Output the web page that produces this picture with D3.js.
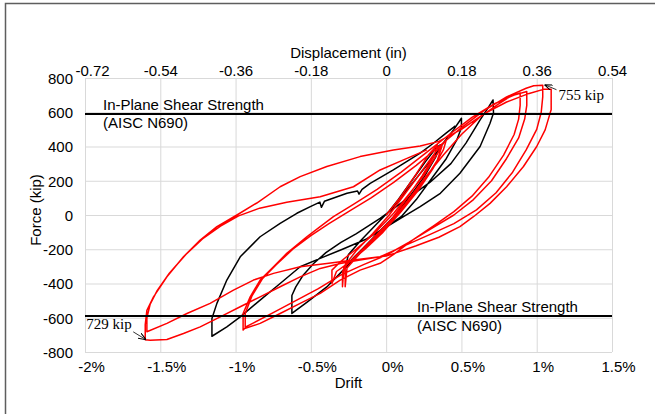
<!DOCTYPE html>
<html>
<head>
<meta charset="utf-8">
<script src="https://cdn.jsdelivr.net/npm/d3@7"></script>
<style>
  body { margin: 0; background: #fff; }
  svg text { font-family: "Liberation Sans", Arial, sans-serif; font-size: 15px; fill: #000; }
  svg text.note { font-family: "Liberation Serif", "Times New Roman", serif; }
</style>
</head>
<body>
<svg id="chart" width="655" height="414"></svg>
<script>
const driftTicks = [-2, -1.5, -1, -0.5, 0, 0.5, 1, 1.5];
const dispTicks = [-0.72, -0.54, -0.36, -0.18, 0, 0.18, 0.36, 0.54];
const forceTicks = [-800, -600, -400, -200, 0, 200, 400, 600, 800];
const shearStrength = 590;
const maxPeak = [1.045, 755];
const minPeak = [-1.60, -729];

// [drift %, force kip]
const blackPts = [
  [0.00, 0], [0.08, 90], [0.17, 200], [0.26, 310], [0.33, 390], [0.36, 410],
  [0.33, 340], [0.25, 220], [0.15, 100], [0.05, -10], [-0.06, -110], [-0.16, -200], [-0.24, -270], [-0.27, -300],
  [-0.25, -230], [-0.17, -150], [-0.06, -50], [0.05, 50], [0.16, 170], [0.28, 300], [0.38, 420], [0.45, 500], [0.50, 565],
  [0.50, 510], [0.47, 440], [0.40, 330], [0.30, 210], [0.20, 90], [0.10, -10], [0.0, -70], [-0.128, -180], [-0.261, -300], [-0.394, -420], [-0.527, -510], [-0.626, -575],
  [-0.626, -470], [-0.60, -420], [-0.55, -350], [-0.48, -282], [-0.40, -220], [-0.30, -160], [-0.20, -110], [-0.04, -20], [0.115, 80], [0.29, 190], [0.43, 300], [0.53, 420], [0.62, 550], [0.68, 630], [0.71, 672],
  [0.713, 595], [0.69, 536], [0.624, 400], [0.49, 244], [0.36, 127], [0.226, 49], [0.115, -10], [0.0, -70], [-0.13, -140], [-0.29, -200], [-0.438, -253], [-0.571, -302], [-0.704, -400], [-0.837, -497], [-0.969, -595], [-1.058, -653], [-1.157, -708],
  [-1.157, -604], [-1.124, -516], [-1.058, -380], [-0.969, -244], [-0.837, -127], [-0.704, -49], [-0.593, 10], [-0.50, 50], [-0.44, 75], [-0.43, 45], [-0.41, 80],
  [-0.33, 105], [-0.26, 127], [-0.19, 140], [-0.18, 122], [-0.16, 150], [-0.106, 185], [0.048, 263], [0.226, 361], [0.314, 419], [0.40, 480], [0.46, 520]
];

const redPts = [
  [0.00, 0], [0.10, 110], [0.20, 240], [0.28, 350], [0.34, 409],
  [0.32, 350], [0.24, 230], [0.14, 100], [0.04, -20], [-0.08, -130], [-0.18, -220], [-0.26, -290], [-0.29, -330], [-0.29, -419],
  [-0.28, -300], [-0.20, -210], [-0.09, -110], [0.02, 0], [0.13, 130], [0.24, 260], [0.33, 370], [0.40, 439],
  [0.38, 380], [0.31, 270], [0.21, 140], [0.10, 20], [-0.02, -100], [-0.14, -200], [-0.25, -280], [-0.33, -330], [-0.36, -400],
  [-0.36, -322], [-0.30, -270], [-0.20, -200], [-0.08, -110], [0.05, 10], [0.15, 120], [0.25, 230], [0.32, 330], [0.37, 400],
  [0.34, 320], [0.26, 210], [0.16, 90], [0.05, -30], [-0.08, -140], [-0.18, -220], [-0.26, -290], [-0.272, -300], [-0.272, -419],
  [-0.26, -310], [-0.18, -230], [-0.08, -140], [0.03, -40], [0.14, 80], [0.26, 220], [0.38, 350], [0.50, 470], [0.62, 570], [0.74, 645], [0.83, 695], [0.89, 712],
  [0.89, 640], [0.88, 560], [0.85, 470], [0.78, 350], [0.68, 220], [0.57, 110], [0.45, 20], [0.32, -60], [0.17, -150], [0.05, -230], [-0.04, -282], [-0.173, -322],
  [-0.305, -380], [-0.438, -458], [-0.571, -516], [-0.704, -575], [-0.837, -633], [-0.94, -663], [-0.95, -672],
  [-0.95, -575], [-0.903, -478], [-0.837, -380], [-0.748, -302], [-0.66, -224], [-0.527, -127], [-0.438, -68], [-0.35, -10], [-0.22, 60], [-0.06, 150],
  [0.10, 250], [0.26, 360], [0.42, 470], [0.57, 570], [0.72, 650], [0.85, 700], [0.934, 721],
  [0.934, 640], [0.92, 560], [0.88, 450], [0.80, 330], [0.70, 200], [0.58, 90], [0.45, 0], [0.30, -80], [0.15, -160], [0.0, -235], [-0.15, -290],
  [-0.30, -350], [-0.45, -430], [-0.60, -500], [-0.75, -570], [-0.88, -630], [-0.936, -655],
  [-0.936, -575], [-0.89, -470], [-0.82, -370], [-0.73, -290], [-0.62, -200], [-0.50, -120], [-0.38, -50], [-0.25, 20], [-0.10, 100], [0.05, 190],
  [0.20, 290], [0.35, 400], [0.50, 510], [0.65, 610], [0.80, 690], [0.93, 740], [0.98, 755], [1.04, 758],
  [1.04, 690], [1.03, 600], [1.00, 500], [0.93, 380], [0.84, 250], [0.73, 130], [0.60, 30], [0.45, -50], [0.30, -110], [0.12, -180], [-0.04, -244],
  [-0.173, -263], [-0.305, -283], [-0.438, -312], [-0.571, -361], [-0.704, -419], [-0.837, -478], [-0.969, -536], [-1.102, -595], [-1.235, -653],
  [-1.346, -692], [-1.456, -727], [-1.567, -731], [-1.60, -729],
  [-1.60, -640], [-1.589, -556], [-1.545, -478], [-1.456, -361], [-1.346, -244], [-1.235, -146], [-1.124, -68], [-0.991, 0], [-0.859, 70], [-0.704, 165],
  [-0.571, 224], [-0.394, 283], [-0.173, 341], [0.048, 380], [0.226, 403], [0.35, 430], [0.50, 500], [0.65, 590], [0.80, 660], [0.95, 710], [1.05, 735], [1.096, 735],
  [1.096, 614], [1.089, 595], [1.056, 497], [1.00, 400], [0.912, 283], [0.80, 165], [0.69, 68], [0.58, -10], [0.49, -68], [0.35, -130], [0.20, -180], [0.00, -240],
  [-0.217, -263], [-0.394, -283], [-0.571, -302], [-0.748, -341], [-0.881, -380], [-1.014, -439], [-1.169, -516], [-1.323, -575], [-1.456, -633], [-1.589, -682],
  [-1.589, -600], [-1.567, -520], [-1.52, -440], [-1.44, -340], [-1.33, -230], [-1.22, -140], [-1.10, -65], [-0.98, -5], [-0.84, 40], [-0.66, 75],
  [-0.438, 107], [-0.217, 165], [-0.04, 263], [0.115, 322], [0.27, 380]
];

const svg = d3.select("#chart");
const margin = { left: 85, right: 43, top: 78, bottom: 62 };
const width = 655 - margin.left - margin.right;
const height = 414 - margin.top - margin.bottom;

// outer frame (top and left edges only)
svg.append("path")
  .attr("d", "M5.5,414 V3.5 H655")
  .attr("fill", "none")
  .attr("stroke", "#5e5e5e")
  .attr("stroke-width", 1.5);

const g = svg.append("g").attr("transform", `translate(${margin.left},${margin.top})`);

const x = d3.scaleLinear().domain([-2, 1.5]).range([0, width]);
const xTop = d3.scaleLinear().domain([-0.72, 0.54]).range([0, width]);
const y = d3.scaleLinear().domain([-800, 800]).range([height, 0]);

// grid
const gridX = g.append("g")
  .attr("transform", `translate(0,${height})`)
  .call(d3.axisBottom(x).tickValues(driftTicks).tickSize(-height).tickFormat(""));
const gridY = g.append("g")
  .call(d3.axisLeft(y).tickValues(forceTicks).tickSize(-width).tickFormat(""));
[gridX, gridY].forEach((grid) => {
  grid.select(".domain").remove();
  grid.selectAll("line").attr("stroke", "#d9d9d9").attr("stroke-width", 1);
});

// axis labels
const bottomAxis = g.append("g")
  .attr("transform", `translate(0,${height})`)
  .call(d3.axisBottom(x).tickValues(driftTicks).tickSize(0).tickFormat((d) => `${d}%`));
bottomAxis.selectAll("text").attr("y", 20).attr("dy", null).attr("dx", 6);

const topAxis = g.append("g")
  .call(d3.axisTop(xTop).tickValues(dispTicks).tickSize(0).tickFormat((d) => `${d}`));
topAxis.selectAll("text").attr("y", -2).attr("dy", null)
  .attr("dx", (d, i) => (i === 0 ? 7 : 0));

const leftAxis = g.append("g")
  .call(d3.axisLeft(y).tickValues(forceTicks).tickSize(0).tickFormat((d) => `${d}`));
leftAxis.selectAll("text").attr("x", -12).attr("dy", "0.35em");

[bottomAxis, topAxis, leftAxis].forEach((ax) => {
  ax.select(".domain").remove();
  ax.selectAll("text").attr("font-size", null).attr("font-family", null).attr("fill", "#000");
});

// titles
g.append("text").attr("x", width / 2).attr("y", -20).attr("text-anchor", "middle").text("Displacement (in)");
g.append("text").attr("x", width / 2).attr("y", height + 36).attr("text-anchor", "middle").text("Drift");
g.append("text")
  .attr("transform", `translate(-44,${height / 2 - 5}) rotate(-90)`)
  .attr("text-anchor", "middle")
  .text("Force (kip)");

// hysteresis curves
const line = d3.line().x((d) => x(d[0])).y((d) => y(d[1]));
g.append("path").datum(blackPts).attr("d", line)
  .attr("fill", "none").attr("stroke", "#000").attr("stroke-width", 1.5).attr("stroke-linejoin", "round");
g.append("path").datum(redPts).attr("d", line)
  .attr("fill", "none").attr("stroke", "#ff0000").attr("stroke-width", 1.5).attr("stroke-linejoin", "round");

// shear strength lines
[shearStrength, -shearStrength].forEach((v) => {
  g.append("line")
    .attr("x1", 0).attr("x2", width)
    .attr("y1", y(v)).attr("y2", y(v))
    .attr("stroke", "#000").attr("stroke-width", 2);
});
g.append("text").attr("x", 18).attr("y", y(shearStrength) - 4).text("In-Plane Shear Strength");
g.append("text").attr("x", 18).attr("y", y(shearStrength) + 14.5).text("(AISC N690)");
g.append("text").attr("x", 332).attr("y", y(-shearStrength) - 4).text("In-Plane Shear Strength");
g.append("text").attr("x", 332).attr("y", y(-shearStrength) + 14.5).text("(AISC N690)");

// peak annotations
svg.append("defs").append("marker")
  .attr("id", "arrow")
  .attr("viewBox", "0 0 8 6")
  .attr("refX", 8).attr("refY", 3)
  .attr("markerWidth", 8).attr("markerHeight", 6)
  .attr("markerUnits", "userSpaceOnUse")
  .attr("orient", "auto")
  .append("path")
  .attr("d", "M0,0 L8,3 L0,6")
  .attr("fill", "none").attr("stroke", "#000").attr("stroke-width", 1);

const px = x(maxPeak[0]), py = y(maxPeak[1]);
g.append("line").attr("x1", px + 13).attr("y1", py + 4).attr("x2", px + 1).attr("y2", py - 1)
  .attr("stroke", "#000").attr("stroke-width", 0.8).attr("marker-end", "url(#arrow)");
g.append("text").attr("class", "note").attr("x", px + 15).attr("y", py + 14).text(`${maxPeak[1]} kip`);

const nx = x(minPeak[0]), ny = y(minPeak[1]);
g.append("line").attr("x1", nx - 12).attr("y1", ny - 8).attr("x2", nx + 1).attr("y2", ny)
  .attr("stroke", "#000").attr("stroke-width", 0.8).attr("marker-end", "url(#arrow)");
g.append("text").attr("class", "note").attr("x", nx - 59).attr("y", ny - 11).text(`${-minPeak[1]} kip`);
</script>
</body>
</html>
